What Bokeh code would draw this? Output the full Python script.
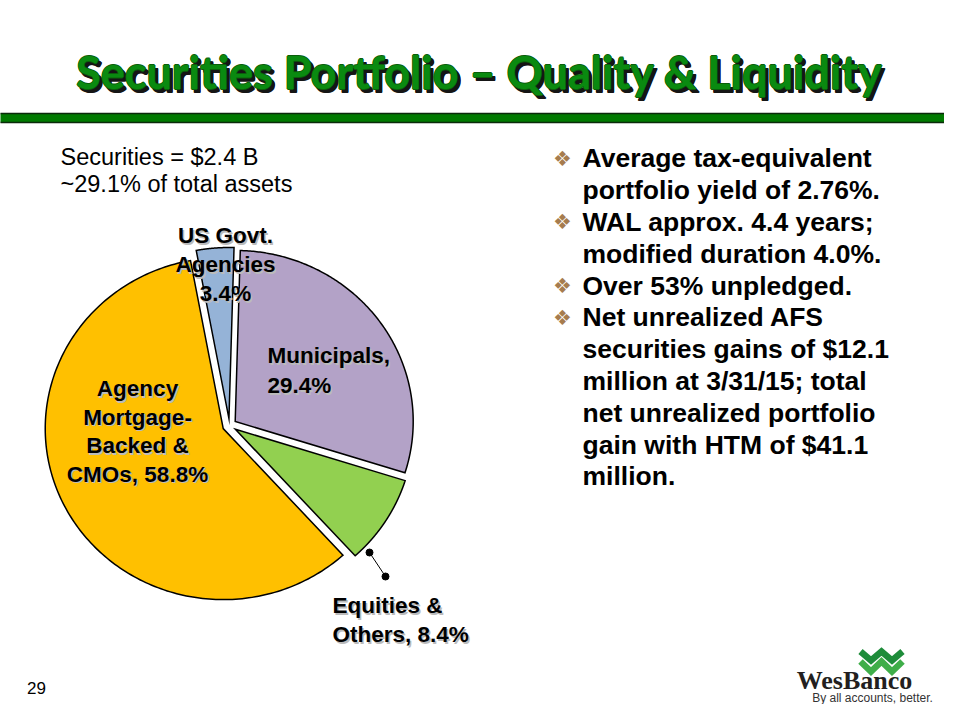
import numpy as np
from bokeh.plotting import figure
from bokeh.models import Range1d
from bokeh.embed import file_html
from bokeh.resources import INLINE
from bokeh.core.properties import value

# ---------------- data ----------------
title = "Securities Portfolio \u2013 Quality & Liquidity"
summary_lines = ["Securities = $2.4 B", "~29.1% of total assets"]
categories = ["US Govt. Agencies", "Municipals", "Equities & Others", "Agency Mortgage-Backed & CMOs"]
shares = [3.4, 29.4, 8.4, 58.8]
colors = ["#95B3D7", "#B3A2C7", "#92D050", "#FFC000"]
label_heads = [["US Govt.", "Agencies"], ["Municipals,"], ["Equities &", "Others,"], ["Agency", "Mortgage-", "Backed &", "CMOs,"]]
bullets = [
    ["Average tax-equivalent", "portfolio yield of 2.76%."],
    ["WAL approx. 4.4 years;", "modified duration 4.0%."],
    ["Over 53%  unpledged."],
    ["Net unrealized AFS", "securities gains of $12.1", "million at 3/31/15; total",
     "net unrealized portfolio", "gain with HTM of $41.1", "million."],
]
page_number = "29"

# ---------------- figure ----------------
W, H = 944, 704
p = figure(width=W, height=H, x_range=Range1d(0, W), y_range=Range1d(720 - H, 720),
           output_backend="svg", toolbar_location=None, min_border=0, title=None,
           x_axis_location=None, y_axis_location=None)
p.grid.visible = False
p.outline_line_color = None
p.background_fill_color = "white"
p.border_fill_color = "white"

def Y(y):
    return 720 - y

# vertical centre of the font box above the baseline, per font (em units)
MID = {"Liberation Sans": 0.347, "Lato": 0.387, "Liberation Serif": 0.338}

def T(x, baseline, s, size, font="Liberation Sans", bold=False, align="left", color="#000000"):
    ymid = baseline - MID[font] * size
    p.text(x=[x], y=[Y(ymid)], text=[s], text_font=value(font),
           text_font_style="bold" if bold else "normal", text_font_size="%.1fpx" % size,
           text_align=align, text_baseline="middle", text_color=color)

# title (thickened by multiple draws, with dark shadow)
tx, ty, tsz = 479, 89, 45
for dx, dy in [(2.5, 2.5), (3.5, 3.5), (3, 2.5), (2.5, 3.5), (3.5, 3)]:
    T(tx + dx, ty + dy, title, tsz, "Lato", True, "center", "#151515")
for dx, dy in [(-0.7, 0), (0.7, 0), (0, -0.7), (0, 0.7)]:
    T(tx + dx, ty + dy, title, tsz, "Lato", True, "center", "#0B5E0B")
T(tx, ty, title, tsz, "Lato", True, "center", "#0A8A10")

# green bar
p.quad(left=[-2], right=[957], top=[Y(113)], bottom=[Y(122)], fill_color="#007A00",
       line_color="#0b2a0b", line_width=1.5)

# summary text
for i, s in enumerate(summary_lines):
    T(60, 165 + 27 * i, s, 23.5)

# ---------------- pie (exploded, slightly elliptical) ----------------
cx, cy, rx, ry, ex = 229, Y(425), 178, 171, 7
theta0 = -10.6
vals = np.array(shares, dtype=float)
edges = theta0 + 360.0 * np.concatenate([[0], np.cumsum(vals)]) / vals.sum()
pxs, pys = [], []
for i in range(len(vals)):
    t1, t2 = edges[i], edges[i + 1]
    tm = np.radians((t1 + t2) / 2)
    ox, oy = cx + ex * np.sin(tm), cy + ex * np.cos(tm)
    th = np.radians(np.linspace(t1, t2, 200))
    pxs.append(np.concatenate([[ox], ox + rx * np.sin(th)]).tolist())
    pys.append(np.concatenate([[oy], oy + ry * np.cos(th)]).tolist())
p.patches(pxs, pys, fill_color=colors, line_color="#000000", line_width=1.5, line_join="miter")

def label(lines, x, y0, dy, align):
    for j, s in enumerate(lines):
        T(x + 1.5, y0 + dy * j + 1.5, s, 22.5, bold=True, align=align, color="#BBBBBB")
        T(x, y0 + dy * j, s, 22.5, bold=True, align=align)

pct = ["{:.1f}%".format(v) for v in shares]
label(label_heads[0] + [pct[0]], 225, 243, 29, "center")
label(label_heads[1] + [pct[1]], 267, 363, 30, "left")
label(["Equities &", label_heads[2][1] + " " + pct[2]], 332, 613, 29, "left")
label(label_heads[3][:3] + [label_heads[3][3] + " " + pct[3]], 137, 396, 28.6, "center")

# leader line for Equities
lx = [369, 385]
ly = [Y(552), Y(576)]
p.line(lx, ly, line_color="#000000", line_width=1)
p.scatter(lx, ly, size=7, fill_color="#000000", line_color="#000000")

# ---------------- bullets ----------------
k = 0
for group in bullets:
    for j, s in enumerate(group):
        yb = 167 + 31.8 * k
        if j == 0:
            p.text(x=[562], y=[Y(yb - 9)], text=["\u2756"], text_font=value("DejaVu Sans"),
                   text_font_size="21px", text_align="center", text_baseline="middle", text_color="#A67C4E")
        T(582, yb, s, 26.5, bold=True)
        k += 1

# page number
T(36, 693, page_number, 17, align="center")

# logo
p.multi_line(xs=[[860, 870.5, 881, 891.5, 902], [860, 870.5, 881, 891.5, 902]],
             ys=[[Y(651), Y(660), Y(651), Y(660), Y(651)], [Y(661), Y(671), Y(661), Y(671), Y(661)]],
             line_color=["#1E8C3A", "#3FAE49"], line_width=6.5, line_join="miter")
T(854, 689, "WesBanco", 26, "Liberation Serif", True, "center", "#231F20")
T(872, 702, "By all accounts, better.", 12, align="center", color="#333333")

open("out.html", "w").write(file_html(p, INLINE))
